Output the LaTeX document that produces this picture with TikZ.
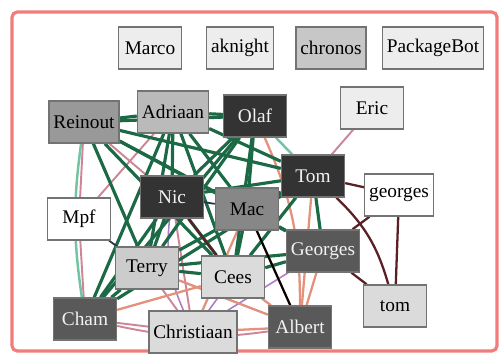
\documentclass[tikz,border=0pt]{standalone}
\usepackage{fontspec}
\setmainfont{Liberation Serif}
\usepackage{xcolor}
\usetikzlibrary{backgrounds}
\definecolor{framered}{HTML}{F07C7C}
\definecolor{dkgreen}{HTML}{1B6A45}
\definecolor{ltgreen}{HTML}{72C4A2}
\definecolor{rosy}{HTML}{CF8598}
\definecolor{salmon}{HTML}{E3917A}
\definecolor{lilac}{HTML}{B07CC6}
\definecolor{maroon}{HTML}{5B2026}
\definecolor{navy}{HTML}{26304F}

\tikzset{
  person/.style={draw=black!55, line width=0.8pt, minimum height=0.84cm,
    minimum width=1.26cm, inner xsep=2.5pt, font=\fontsize{11}{13}\selectfont},
  pale/.style={person, fill=black!7},
  light/.style={person, fill=black!14},
  mid/.style={person, fill=black!22},
  grey/.style={person, fill=black!65, text=white!90!gray},
  dark/.style={person, fill=black!80, text=white!90!gray},
  gline/.style={dkgreen, line width=1.8pt},
  lgline/.style={ltgreen, line width=1.4pt},
  pline/.style={rosy, line width=1.1pt},
  sline/.style={salmon, line width=1.3pt},
  vline/.style={lilac, line width=0.9pt},
  mline/.style={maroon, line width=1.3pt},
}

\begin{document}
\begin{tikzpicture}[x=0.02cm, y=-0.02cm]
  \useasboundingbox (0,0) rectangle (502,354);
  \draw[framered, line width=1.8pt, rounded corners=3pt] (12,12) rectangle (497,351);
  % people
  \node[pale]  (marco)      at (150,48)  {Marco};
  \node[pale]  (aknight)    at (240,48)  {aknight};
  \node[mid]   (chronos)    at (331,48)  {chronos};
  \node[pale]  (packagebot) at (433,48)  {PackageBot};
  \node[mid, fill=black!40] (reinout) at (84,122) {Reinout};
  \node[mid, fill=black!27] (adriaan) at (173,112) {Adriaan};
  \node[dark]  (olaf)       at (255,116) {Olaf};
  \node[pale]  (eric)       at (372,108) {Eric};
  \node[dark]  (tom)        at (313,176) {Tom};
  \node[person, fill=white] (georges) at (399,195) {georges};
  \node[dark]  (nic)        at (172,197) {Nic};
  \node[mid, fill=black!47] (mac) at (247,209) {Mac};
  \node[person, fill=white] (mpf) at (79,219) {Mpf};
  \node[grey]  (bigeorges)  at (323,251) {Georges};
  \node[mid, fill=black!20] (terry) at (147,268) {Terry};
  \node[light] (cees)       at (233,277) {Cees};
  \node[light] (smalltom)   at (395,306) {tom};
  \node[grey]  (cham)       at (85,319)  {Cham};
  \node[light] (christiaan) at (193,332) {Christiaan};
  \node[grey]  (albert)     at (300,327) {Albert};
  % links
  \begin{scope}[on background layer]
    \draw[pline] (reinout) -- (mpf);
    \draw[pline] (mpf) -- (cham);
    \draw[pline] (adriaan) -- (mpf);
    \draw[pline] (reinout) -- (nic);
    \draw[pline] (eric) -- (tom);
    \draw[pline] (cham) -- (christiaan);
    \draw[pline] (nic) -- (christiaan);
    \draw[pline] (terry) -- (christiaan);
    \draw[pline] (cham) to[bend right=10] (albert);
    \draw[vline] (reinout) -- (mac);
    \draw[vline] (cees) -- (christiaan);
    \draw[vline] (terry) -- (albert);
    \draw[vline] (nic) to[bend right=15] (christiaan);
    \draw[vline] (christiaan) -- (bigeorges);
    \draw[sline] (olaf) to[bend left=12] (albert);
    \draw[sline] (tom) -- (albert);
    \draw[sline] (mac) -- (albert);
    \draw[sline] (bigeorges) -- (albert);
    \draw[sline] (christiaan) -- (albert);
    \draw[sline] (cham) -- (cees);
    \draw[sline] (cees) -- (albert);
    \draw[sline] (terry) -- (albert);
    \draw[sline] (mac) -- (christiaan);
    \draw[lgline] (olaf) -- (tom);
    \draw[lgline] (reinout) to[bend right=8] (cham);
    \draw[gline] (reinout) -- (adriaan);
    \draw[gline] (reinout) -- (olaf);
    \draw[gline] (reinout) -- (tom);
    \draw[gline] (reinout) -- (mac);
    \draw[gline] (reinout) -- (cees);
    \draw[gline] (reinout) -- (terry);
    \draw[gline] (reinout) -- (bigeorges);
    \draw[gline] (adriaan) -- (olaf);
    \draw[gline] (adriaan) -- (nic);
    \draw[gline] (adriaan) -- (tom);
    \draw[gline] (adriaan) -- (mac);
    \draw[gline] (adriaan) -- (cees);
    \draw[gline] (adriaan) -- (cham);
    \draw[gline] (adriaan) -- (terry);
    \draw[gline] (olaf) -- (nic);
    \draw[gline] (olaf) -- (mac);
    \draw[gline] (olaf) -- (terry);
    \draw[gline] (olaf) -- (cees);
    \draw[gline] (olaf) -- (cham);
    \draw[gline] (nic) -- (tom);
    \draw[gline] (nic) -- (terry);
    \draw[gline] (nic) -- (cees);
    \draw[gline] (nic) -- (cham);
    \draw[gline] (tom) -- (mac);
    \draw[gline] (tom) -- (cees);
    \draw[gline] (tom) -- (bigeorges);
    \draw[gline] (tom) -- (terry);
    \draw[gline] (mac) -- (cees);
    \draw[gline] (mac) -- (bigeorges);
    \draw[gline] (terry) -- (cees);
    \draw[gline] (terry) -- (bigeorges);
    \draw[gline] (cees) -- (bigeorges);
    \draw[gline] (cham) -- (terry);
    \draw[gline] (cham) -- (tom);
    \draw[navy, line width=1pt] (nic) -- (mac);
    \draw[navy, line width=1pt] (mpf) -- (terry);
    \draw[black, line width=1.2pt] (mac) -- (albert);
    \draw[mline] (tom) -- (georges);
    \draw[mline] (tom) to[bend left=15] (smalltom);
    \draw[mline] (georges) -- (bigeorges);
    \draw[mline] (georges) -- (smalltom);
    \draw[mline] (bigeorges) -- (smalltom);
    \draw[mline] (nic) -- (cees);
  \end{scope}
\end{tikzpicture}
\end{document}
